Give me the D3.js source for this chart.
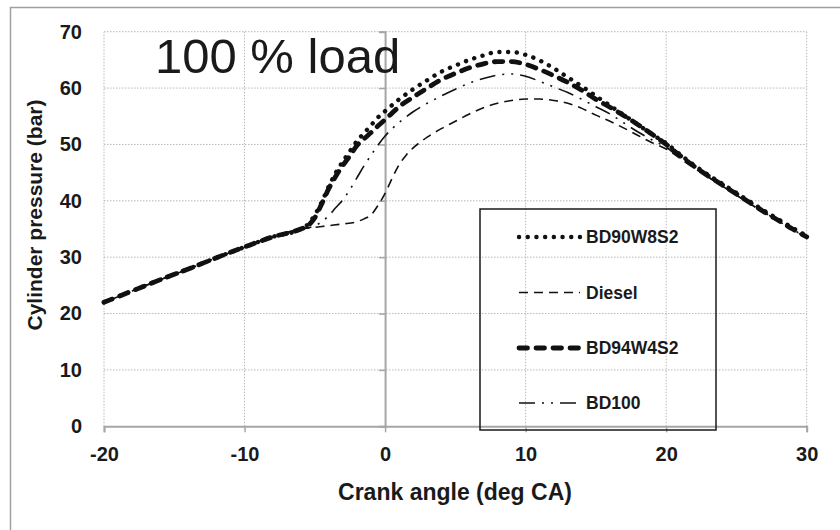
<!DOCTYPE html>
<html>
<head>
<meta charset="utf-8">
<script src="https://cdn.jsdelivr.net/npm/d3@7"></script>
<style>
  html, body { margin: 0; padding: 0; background: #fff; }
  svg { display: block; }
  text { font-family: "Liberation Sans", Arial, sans-serif; fill: #1a1a1a; }
</style>
</head>
<body>
<svg id="chart" width="840" height="530"></svg>
<script>
// ---- data ----
const xTicks = [-20, -10, 0, 10, 20, 30];
const yTicks = [0, 10, 20, 30, 40, 50, 60, 70];
const titleText = "100 % load";
const xTitle = "Crank angle (deg CA)";
const yTitle = "Cylinder pressure (bar)";

const compression = [[-20,22.0],[-18,24.0],[-16,26.0],[-14,27.9],[-12,29.9],[-10,31.8],[-8,33.6],[-6,35.0]];

const bd90w8s2 = [[-5.5,35.8],[-5,37.5],[-4.5,39.8],[-4,42.6],[-3.5,45.0],[-3,47.0],[-2.5,48.8],[-2,50.6],
  [-1.5,52.0],[-1,53.4],[-0.5,54.8],[0,55.9],[1,58.0],[2,59.8],[3,61.4],[4,62.9],[5,64.0],[6,65.0],[7,65.8],
  [8,66.4],[9,66.4],[10,65.9],[11,64.9],[12,63.5],[13,61.9],[14,60.3],[15,58.6],[16,56.9],[17,55.2],[18,53.5],
  [19,51.8],[20,50.2],[21,48.2],[22,46.3],[23,44.6],[24,43.0],[25,41.4],[26,39.8],[27,38.2],[28,36.7],[29,35.2],[30,33.8]];

const diesel = [[-5,35.3],[-4,35.6],[-3,35.9],[-2,36.3],[-1.5,36.8],[-1,37.5],[-0.5,39.2],[0,41.3],[0.5,44.0],
  [1,46.4],[1.5,48.1],[2,49.4],[2.5,50.4],[3,51.3],[4,52.8],[5,54.1],[6,55.4],[7,56.5],[8,57.3],[9,57.8],
  [10,58.05],[11,58.05],[12,57.8],[13,57.3],[14,56.4],[15,55.2],[16,54.1],[17,52.9],[18,51.6],[19,50.3],[20,49.2],
  [21,47.5],[22,45.8],[23,44.2],[24,42.6],[25,41.0],[26,39.4],[27,37.9],[28,36.4],[29,34.9],[30,33.4]];

const bd94w4s2 = [[-5.5,35.6],[-5,37.0],[-4.5,39.5],[-4,42.2],[-3.5,44.4],[-3,46.3],[-2.5,48.0],[-2,49.8],
  [-1.5,51.0],[-1,52.1],[-0.5,53.3],[0,54.4],[1,56.7],[2,58.4],[3,60.0],[4,61.5],[5,62.6],[6,63.6],[7,64.3],
  [8,64.7],[9,64.7],[10,64.2],[11,63.3],[12,62.2],[13,61.0],[14,59.6],[15,58.0],[16,56.6],[17,55.1],[18,53.5],
  [19,51.8],[20,50.0],[21,48.0],[22,46.1],[23,44.4],[24,42.8],[25,41.2],[26,39.6],[27,38.0],[28,36.5],[29,35.0],[30,33.6]];

const bd100 = [[-5.5,35.2],[-5,35.6],[-4.5,36.3],[-4,37.4],[-3.5,38.8],[-3,40.2],[-2.5,42.0],[-2,44.1],
  [-1.5,46.2],[-1,48.1],[-0.5,49.9],[0,51.5],[0.5,52.8],[1,53.9],[1.5,54.9],[2,55.8],[3,57.3],[4,58.6],[5,59.8],[6,60.9],
  [7,61.7],[8,62.3],[9,62.5],[10,62.1],[11,61.2],[12,60.2],[13,59.2],[14,58.0],[15,56.7],[16,55.4],[17,53.8],
  [18,52.2],[19,50.8],[20,49.5],[21,47.6],[22,45.9],[23,44.2],[24,42.6],[25,41.0],[26,39.4],[27,37.9],[28,36.4],[29,34.9],[30,33.5]];

const seriesNames = ["BD90W8S2", "Diesel", "BD94W4S2", "BD100"];
const seriesData = [bd90w8s2, diesel, bd94w4s2, bd100];

// ---- styles ----
const styles = {
  "BD90W8S2": { width: 4.4, dash: "0.1 8.6", cap: "round" },
  "Diesel":   { width: 1.6, dash: "9 6", cap: "butt" },
  "BD94W4S2": { width: 4.8, dash: "8.5 8.5", cap: "round" },
  "BD100":    { width: 1.6, dash: "16 7 2 7 2 7", cap: "butt" }
};

const svg = d3.select("#chart");
const x = d3.scaleLinear().domain([-20, 30]).range([104, 806.7]);
const y = d3.scaleLinear().domain([0, 70]).range([426.3, 31.7]);

// outer chart border (top + left visible)
svg.append("rect").attr("x", 10.5).attr("y", 7.5).attr("width", 1000).attr("height", 1000)
  .attr("fill", "none").attr("stroke", "#a0a0a0").attr("stroke-width", 1.5);

// gridlines
const grid = svg.append("g");
grid.selectAll("line.h").data(yTicks.filter(d => d > 0)).join("line")
  .attr("x1", x(-20)).attr("x2", x(30)).attr("y1", d => y(d)).attr("y2", d => y(d))
  .attr("stroke", "#b8b8b8").attr("stroke-width", 1).attr("stroke-dasharray", "1.5 1.5");
grid.selectAll("line.v").data(xTicks.filter(d => d !== 0)).join("line")
  .attr("x1", d => x(d)).attr("x2", d => x(d)).attr("y1", y(0)).attr("y2", y(70))
  .attr("stroke", "#b8b8b8").attr("stroke-width", 1).attr("stroke-dasharray", "1.5 1.5");

const fmt = d => String(d);

// x axis at y=0
const xAxis = svg.append("g").attr("transform", `translate(0,${y(0)})`)
  .call(d3.axisBottom(x).tickValues(xTicks).tickSize(6).tickPadding(15).tickFormat(fmt));
xAxis.select(".domain").attr("stroke", "#a6a6a6").attr("stroke-width", 2);
xAxis.selectAll(".tick line").attr("stroke", "#a6a6a6").attr("stroke-width", 1.5);
xAxis.selectAll(".tick text").attr("fill", "#1a1a1a").style("font-size", "20px").style("font-weight", "bold")
  .style("font-family", '"Liberation Sans", Arial, sans-serif');

// y axis line at x=0 with ticks
const yAxis = svg.append("g").attr("transform", `translate(${x(0)},0)`)
  .call(d3.axisLeft(y).tickValues(yTicks).tickSize(6).tickFormat(""));
yAxis.select(".domain").attr("stroke", "#a6a6a6").attr("stroke-width", 2);
yAxis.selectAll(".tick line").attr("stroke", "#a6a6a6").attr("stroke-width", 1.5);

// y tick labels at left edge
const yLab = svg.append("g").attr("transform", `translate(${x(-20)},0)`)
  .call(d3.axisLeft(y).tickValues(yTicks).tickSize(0).tickPadding(22).tickFormat(fmt));
yLab.select(".domain").remove();
yLab.selectAll(".tick text").attr("fill", "#1a1a1a").style("font-size", "20px").style("font-weight", "bold")
  .style("font-family", '"Liberation Sans", Arial, sans-serif');

// lines
const line = d3.line().x(d => x(d[0])).y(d => y(d[1])).curve(d3.curveMonotoneX);
seriesNames.forEach((name, i) => {
  const st = styles[name];
  svg.append("path")
    .datum(compression.concat(seriesData[i]))
    .attr("d", line)
    .attr("fill", "none")
    .attr("stroke", "#111")
    .attr("stroke-width", st.width)
    .attr("stroke-dasharray", st.dash)
    .attr("stroke-linecap", st.cap)
    .attr("stroke-linejoin", "round");
});

// legend
const lg = svg.append("g");
lg.append("rect").attr("x", 480).attr("y", 209).attr("width", 236).attr("height", 221)
  .attr("fill", "none").attr("stroke", "#1a1a1a").attr("stroke-width", 1.5);
const rowY = [237, 292.5, 348, 403];
seriesNames.forEach((name, i) => {
  const st = styles[name];
  lg.append("line").attr("x1", 519).attr("x2", 580).attr("y1", rowY[i]).attr("y2", rowY[i])
    .attr("stroke", "#111").attr("stroke-width", st.width)
    .attr("stroke-dasharray", st.dash).attr("stroke-linecap", st.cap);
  lg.append("text").attr("x", 586).attr("y", rowY[i]).attr("dy", "0.36em")
    .style("font-size", "17.5px").style("font-weight", "bold").text(name);
});

// title
svg.append("text").attr("x", 155).attr("y", 72.5).style("font-size", "49px").text(titleText);

// axis titles
svg.append("text").attr("x", 455).attr("y", 500).attr("text-anchor", "middle")
  .style("font-size", "23px").style("font-weight", "bold").text(xTitle);
svg.append("text").attr("transform", "translate(42,215) rotate(-90)").attr("text-anchor", "middle")
  .style("font-size", "21px").style("font-weight", "bold").text(yTitle);
</script>
</body>
</html>
